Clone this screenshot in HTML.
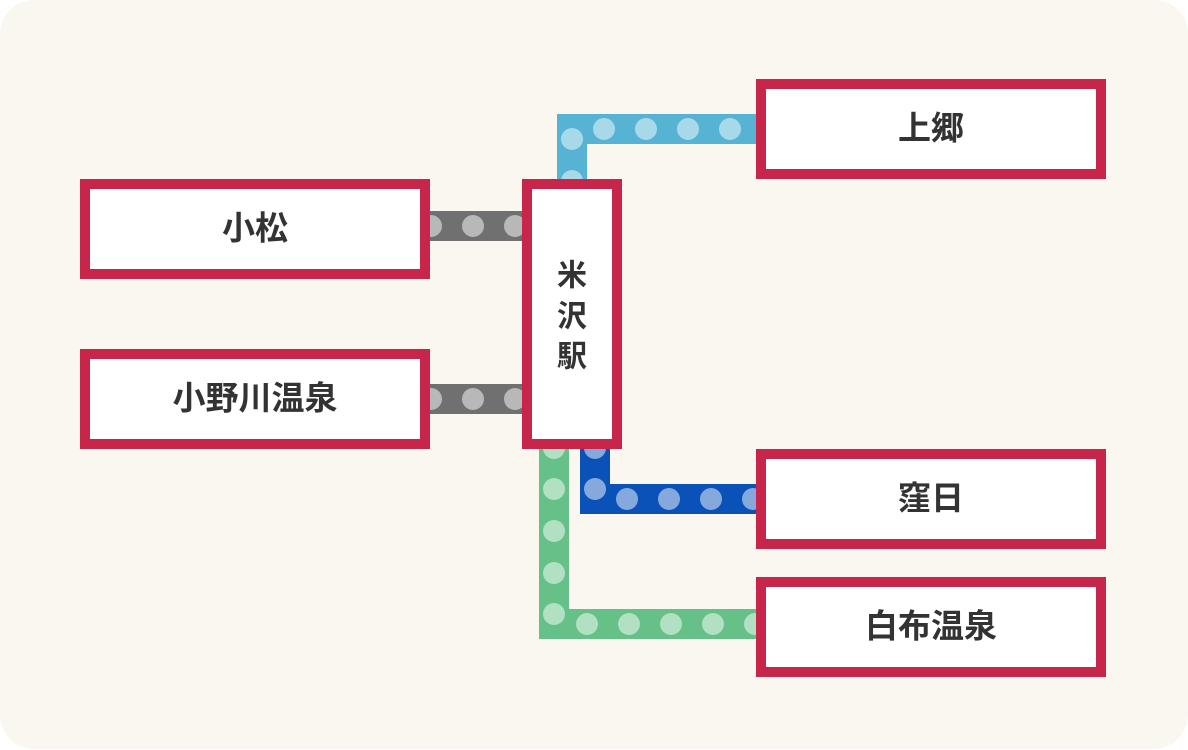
<!DOCTYPE html>
<html><head><meta charset="utf-8"><style>
html,body{margin:0;padding:0;background:#fff;}
svg{display:block;}
text{font-family:"Liberation Sans","Noto Sans CJK JP",sans-serif;fill:#333;}
</style></head><body>
<svg width="1188" height="750" viewBox="0 0 1188 750" xmlns="http://www.w3.org/2000/svg">
<rect x="0" y="0" width="1188" height="749" rx="34" ry="34" fill="#faf7f0"/>
<!-- gray lines -->
<rect x="420" y="211" width="110" height="30" fill="#707070"/>
<g fill="#b8b8b8"><circle cx="431" cy="226" r="11"/><circle cx="473" cy="226" r="11"/><circle cx="515" cy="226" r="11"/></g>
<rect x="420" y="384" width="110" height="30" fill="#707070"/>
<g fill="#b8b8b8"><circle cx="431" cy="399" r="11"/><circle cx="473" cy="399" r="11"/><circle cx="515" cy="399" r="11"/></g>
<!-- light blue -->
<path d="M557 190 V114 H766 V144 H587 V190 Z" fill="#56b3d3"/>
<g fill="#a8d9e8"><circle cx="572" cy="139" r="11"/><circle cx="572" cy="181" r="11"/><circle cx="604" cy="129" r="11"/><circle cx="646" cy="129" r="11"/><circle cx="688" cy="129" r="11"/><circle cx="730" cy="129" r="11"/></g>
<!-- green -->
<path d="M539 440 V639 H766 V609 H569 V440 Z" fill="#66c188"/>
<g fill="#b1e0c3"><circle cx="554" cy="448" r="11"/><circle cx="554" cy="489" r="11"/><circle cx="554" cy="531" r="11"/><circle cx="554" cy="573" r="11"/><circle cx="554" cy="614" r="11"/><circle cx="587" cy="624" r="11"/><circle cx="629" cy="624" r="11"/><circle cx="671" cy="624" r="11"/><circle cx="713" cy="624" r="11"/><circle cx="755" cy="624" r="11"/></g>
<!-- dark blue -->
<path d="M580 440 V514 H766 V484 H610 V440 Z" fill="#0b52b8"/>
<g fill="#85a9dd"><circle cx="595" cy="448" r="11"/><circle cx="595" cy="489" r="11"/><circle cx="627" cy="499" r="11"/><circle cx="669" cy="499" r="11"/><circle cx="711" cy="499" r="11"/><circle cx="753" cy="499" r="11"/></g>
<!-- boxes -->
<g fill="#fff" stroke="#c8254a" stroke-width="10">
<rect x="85" y="184" width="340" height="90"/>
<rect x="85" y="354" width="340" height="90"/>
<rect x="527" y="184" width="90" height="260"/>
<rect x="761" y="84" width="340" height="90"/>
<rect x="761" y="454" width="340" height="90"/>
<rect x="761" y="582" width="340" height="90"/>
</g>
<g font-size="33" font-weight="bold" text-anchor="middle" dominant-baseline="central">
<text x="255" y="228">小松</text>
<text x="255" y="398">小野川温泉</text>
<text x="931" y="128">上郷</text>
<text x="931" y="498">窪日</text>
<text x="931" y="626">白布温泉</text>
</g>
<g font-size="30" font-weight="bold" text-anchor="middle" dominant-baseline="central">
<text x="572" y="276">米</text>
<text x="572" y="317">沢</text>
<text x="572" y="357">駅</text>
</g>
</svg>
</body></html>
